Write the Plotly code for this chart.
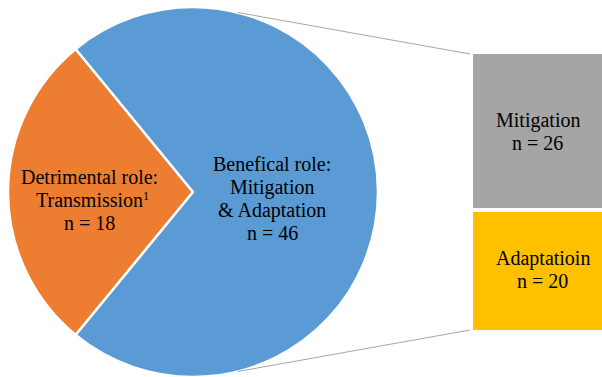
import math
import plotly.graph_objects as go

# ---- data ----
pie_labels = ["Detrimental role: Transmission", "Benefical role: Mitigation & Adaptation"]
pie_values = [18, 46]
pie_colors = ["#ED7D31", "#5B9BD5"]

bar_labels = ["Adaptatioin", "Mitigation"]
bar_values = [20, 26]
bar_colors = ["#FFC000", "#A5A5A5"]

W, H = 602, 377
FONT = "Times New Roman, Liberation Serif, DejaVu Serif, serif"
FS = 20

# pie geometry (pixels)
cx, cy, r = 193, 192, 185
px = lambda x: x / W
py = lambda y: 1 - y / H

first_share = pie_values[0] / sum(pie_values) * 360
rotation = 270 - first_share / 2

fig = go.Figure()
fig.add_trace(go.Pie(
    labels=pie_labels, values=pie_values, sort=False, direction="clockwise",
    rotation=rotation, textinfo="none", hoverinfo="label+value",
    marker=dict(colors=pie_colors, line=dict(color="white", width=2.5)),
    domain=dict(x=[px(cx - r), px(cx + r)], y=[py(cy + r), py(cy - r)]),
    showlegend=False,
))

for lab, val, col in zip(bar_labels, bar_values, bar_colors):
    fig.add_trace(go.Bar(
        x=[0], y=[val], name=lab, width=1,
        marker=dict(color=col, line=dict(color="white", width=4)),
        showlegend=False, xaxis="x", yaxis="y",
    ))

bar_left, bar_bottom, bar_top = 471, 332, 52
fig.update_layout(
    barmode="stack",
    width=W, height=H,
    margin=dict(l=0, r=0, t=0, b=0),
    paper_bgcolor="white", plot_bgcolor="rgba(0,0,0,0)",
    xaxis=dict(domain=[px(bar_left), 1], range=[-0.5, 0.3], visible=False, fixedrange=True),
    yaxis=dict(domain=[py(bar_bottom), py(bar_top)], range=[0, sum(bar_values)], visible=False, fixedrange=True),
    font=dict(family=FONT, size=FS, color="black"),
)

# connector lines from pie to bar
ang = math.radians(14)
top_pt = (cx + r * math.sin(ang), cy - r * math.cos(ang))
bot_pt = (cx + r * math.sin(ang), cy + r * math.cos(ang))
for (x0, y0), y1 in [(top_pt, 54), (bot_pt, 330)]:
    fig.add_shape(type="line", xref="paper", yref="paper",
                  x0=px(x0), y0=py(y0), x1=px(470), y1=py(y1),
                  line=dict(color="#A6A6A6", width=1))

# label blocks: (center x, first baseline y, line spacing, lines)
blocks = [
    (89, 184, 23, ["Detrimental role:", "Transmission", "n = %d" % pie_values[0]]),
    (272, 171, 23, ["Benefical role:", "Mitigation", "&amp; Adaptation", "n = %d" % pie_values[1]]),
    (537.5, 127, 23, ["Mitigation", "n = %d" % bar_values[1]]),
    (542.5, 265, 22.5, ["Adaptatioin", "n = %d" % bar_values[0]]),
]
for x, b0, sp, lines in blocks:
    for i, t in enumerate(lines):
        fig.add_annotation(x=px(x), y=py(b0 + i * sp - 0.3375 * FS), xref="paper", yref="paper",
                           text=t, showarrow=False, xanchor="center", yanchor="middle",
                           borderpad=0, font=dict(family=FONT, size=FS, color="black"))

# footnote marker after "Transmission"
fig.add_annotation(x=px(142), y=py(188), xref="paper", yref="paper", text="1",
                   showarrow=False, xanchor="left", yanchor="top", borderpad=0,
                   font=dict(family=FONT, size=12, color="black"))

fig.write_html("out.html")
